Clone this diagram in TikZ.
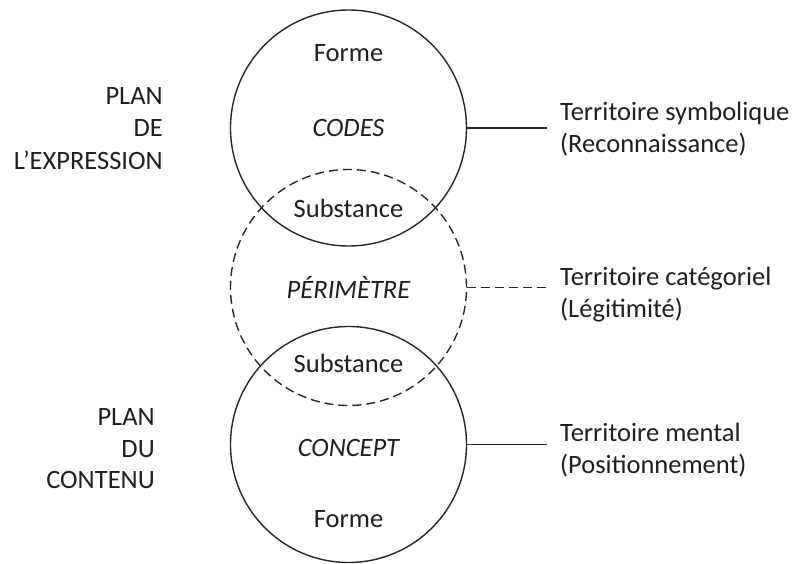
\documentclass[tikz,border=0pt]{standalone}
\usepackage{fontspec}
\setmainfont{Carlito}
\begin{document}
\begin{tikzpicture}[x=1pt,y=-1pt,
  lbl/.style={inner sep=0pt,text=black!88,font=\fontsize{26.5}{32}\selectfont},
  ring/.style={circle,draw=black!85,line width=1.4pt,minimum size=236pt,inner sep=0pt},
  dashring/.style={ring,dash pattern=on 9pt off 5pt},
  link/.style={draw=black!85,line width=1.4pt},
  dashlink/.style={link,dash pattern=on 9pt off 5pt}]
\useasboundingbox (0,0) rectangle (801,564);
% circles
\node[ring] (top) at (348.5,128) {};
\node[dashring] (mid) at (348.5,287.5) {};
\node[ring] (bot) at (348.5,444.5) {};
% inner texts
\node[lbl,anchor=base] (f1) at (348.5,61.5) {Forme};
\node[lbl,anchor=base] (codes) at (348.5,136.5) {\itshape CODES};
\node[lbl,anchor=base] (s1) at (348.5,217.5) {Substance};
\node[lbl,anchor=base] (per) at (348.5,298.5) {\itshape PÉRIMÈTRE};
\node[lbl,anchor=base] (s2) at (348.5,372.5) {Substance};
\node[lbl,anchor=base] (conc) at (348.5,456.5) {\itshape CONCEPT};
\node[lbl,anchor=base] (f2) at (348.5,527.5) {Forme};
% left labels
\node[lbl,anchor=base east] (pe1) at (163,104.5) {PLAN};
\node[lbl,anchor=base east] (pe2) at (163,137) {DE};
\node[lbl,anchor=base east] (pe3) at (163,169.5) {L’EXPRESSION};
\node[lbl,anchor=base east] (pc1) at (155,425.5) {PLAN};
\node[lbl,anchor=base east] (pc2) at (155,457) {DU};
\node[lbl,anchor=base east] (pc3) at (155,488.5) {CONTENU};
% right labels
\node[lbl,anchor=base west] (r1a) at (560,120.5) {Territoire symbolique};
\node[lbl,anchor=base west] (r1b) at (560,153) {(Reconnaissance)};
\node[lbl,anchor=base west] (r2a) at (560,285.5) {Territoire catégoriel};
\node[lbl,anchor=base west] (r2b) at (560,317) {(Légitimité)};
\node[lbl,anchor=base west] (r3a) at (560,441.5) {Territoire mental};
\node[lbl,anchor=base west] (r3b) at (560,473.5) {(Positionnement)};
% connectors
\coordinate (e1) at (547,128);
\coordinate (e2) at (547,287.5);
\coordinate (e3) at (547,444.5);
\draw[link] (top.east) -- (e1);
\draw[dashlink] (mid.east) -- (e2);
\draw[link] (bot.east) -- (e3);
\end{tikzpicture}
\end{document}
